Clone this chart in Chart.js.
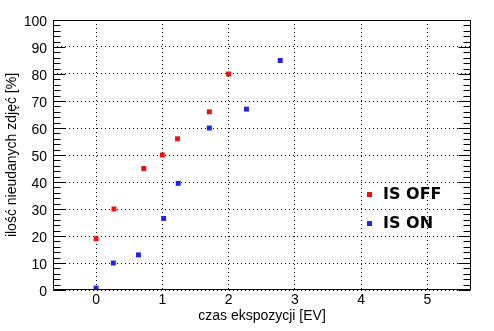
<!DOCTYPE html>
<html>
<head>
<meta charset="utf-8">
<script src="https://cdn.jsdelivr.net/npm/chart.js@4/dist/chart.umd.min.js"></script>
<style>
  html, body { margin: 0; padding: 0; background: #fff; }
  #wrap { width: 494px; height: 331px; }
</style>
</head>
<body>
<div id="wrap"><canvas id="c" width="494" height="331"></canvas></div>
<script>
// data
var offX = [0, 0.27, 0.72, 1.0, 1.23, 1.71, 2.0];
var offY = [19, 30, 45, 50, 56, 66, 80];
var onX = [0, 0.26, 0.64, 1.02, 1.24, 1.71, 2.27, 2.78];
var onY = [0.7, 10, 13, 26.5, 39.5, 60, 67, 85];
var seriesNames = ['IS OFF', 'IS ON'];
var seriesColors = ['#ee1111', '#2222ee'];
var xTitle = 'czas ekspozycji [EV]';
var yTitle = 'ilość nieudanych zdjęć [%]';

function pts(xs, ys) {
    var out = [];
    for (var i = 0; i < xs.length; i++) out.push({x: xs[i], y: ys[i]});
    return out;
}

var tickFont = {family: 'Liberation Sans', size: 14};

// frame, inward ticks on left/right and the legend inside the plot
var framePlugin = {
    id: 'frame',
    afterDraw: function(chart) {
        var ctx = chart.ctx;
        var a = chart.chartArea;
        var ys = chart.scales.y;
        var L = Math.round(a.left) + 0.5, R = Math.round(a.right) - 0.5;
        var T = Math.round(a.top) + 0.5, B = Math.round(a.bottom) - 0.5;
        ctx.save();
        ctx.strokeStyle = '#000';
        ctx.lineWidth = 1;
        ctx.beginPath();
        ctx.rect(L, T, R - L, B - T);
        for (var v = 0; v <= 100; v += 2) {
            var py = Math.round(ys.getPixelForValue(v)) + 0.5;
            var len = (v % 10 === 0) ? 12 : 7;
            ctx.moveTo(L, py); ctx.lineTo(L + len, py);
            ctx.moveTo(R, py); ctx.lineTo(R - len, py);
        }
        ctx.stroke();

        // legend
        ctx.font = 'bold 16px "DejaVu Sans"';
        ctx.textBaseline = 'middle';
        ctx.textAlign = 'left';
        var lx = a.right - 102, ly = a.top + 174;
        chart.data.datasets.forEach(function(ds, i) {
            var y = ly + i * 29;
            ctx.fillStyle = ds.backgroundColor;
            ctx.fillRect(lx - 2, y - 2, 5, 5);
            ctx.fillStyle = '#000';
            ctx.fillText(ds.label, lx + 14, y + 1);
        });
        ctx.restore();
    }
};

new Chart(document.getElementById('c'), {
    type: 'scatter',
    data: {
        datasets: [
            {label: seriesNames[0], data: pts(offX, offY), backgroundColor: seriesColors[0],
             pointStyle: 'rect', pointRadius: 3.5, borderWidth: 0},
            {label: seriesNames[1], data: pts(onX, onY), backgroundColor: seriesColors[1],
             pointStyle: 'rect', pointRadius: 3.5, borderWidth: 0}
        ]
    },
    options: {
        responsive: false,
        animation: false,
        layout: {padding: {top: 20, right: 23, left: 0, bottom: 0}, autoPadding: false},
        plugins: {legend: {display: false}, tooltip: {enabled: false}},
        scales: {
            x: {
                type: 'linear',
                min: -0.65, max: 5.66,
                afterFit: function(s) { s.height = 41; },
                ticks: {stepSize: 1, includeBounds: false, padding: 2, color: '#000', font: tickFont},
                grid: {color: '#000', drawTicks: false, lineWidth: 1},
                border: {display: false, dash: [1, 3]},
                title: {display: true, text: xTitle, color: '#000', font: tickFont, padding: {top: 0, bottom: 6}}
            },
            y: {
                type: 'linear',
                min: 0, max: 100,
                afterFit: function(s) { s.width = 53; },
                ticks: {stepSize: 10, padding: 6, labelOffset: 2, color: '#000', font: tickFont},
                grid: {color: '#000', drawTicks: false, lineWidth: 1},
                border: {display: false, dash: [1, 3]},
                title: {display: true, text: yTitle, color: '#000', font: tickFont, padding: {top: 4, bottom: 0}}
            }
        }
    },
    plugins: [framePlugin]
});
</script>
</body>
</html>
